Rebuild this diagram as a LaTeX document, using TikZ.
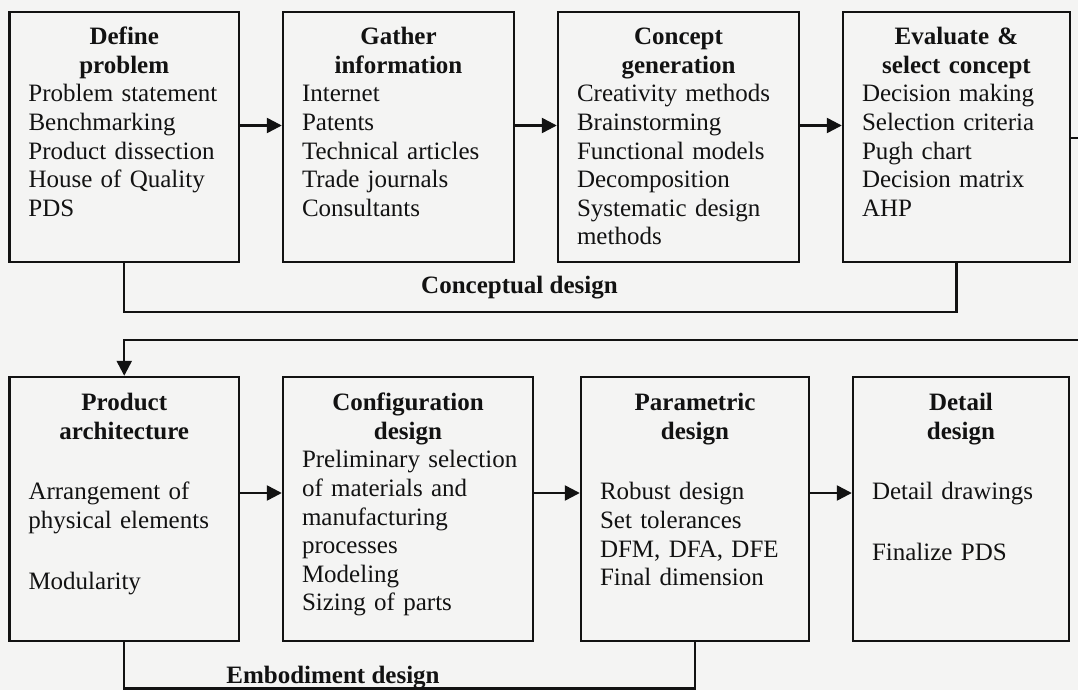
\documentclass[tikz,border=0pt]{standalone}
\usepackage{fontspec}
\setmainfont{Liberation Serif}
\usetikzlibrary{arrows.meta,fit,calc}
\definecolor{paper}{RGB}{244,244,243}
\definecolor{ink}{RGB}{18,18,18}
\newcommand{\stagetext}[2]{\centering\bfseries #1\par
  \normalfont\leftskip=9.5pt\rightskip=0pt plus 1fil #2\par}
\begin{document}
\begin{tikzpicture}[x=0.5pt,y=-0.5pt,
  line/.style={draw=ink,line width=1.2pt},
  flow/.style={line,-{Triangle[length=7.5pt,width=7.5pt]}},
  stage/.style={line,fit={#1},inner sep=0pt},
  txt/.style={inner sep=0pt,anchor=base,text=ink,
    font=\fontsize{12.5pt}{14.3pt}\selectfont},
  lbl/.style={inner sep=0pt,anchor=base,text=ink,
    font=\fontsize{12.5pt}{14.3pt}\selectfont\bfseries}]

% page
\fill[paper] (0,0) rectangle (1078,690);
\useasboundingbox (0,0) rectangle (1078,690);

% conceptual design row
\node[stage={(9.5,12)(239,262)}] (b1) {};
\node[stage={(283,12)(514,262)}] (b2) {};
\node[stage={(558,12)(799,262)}] (b3) {};
\node[stage={(843,12)(1070,262)}] (b4) {};

\node[txt,text width=114.75pt] (t1) at ($(b1.north)+(0,34)$)
  {\stagetext{Define\\problem}{Problem statement\\Benchmarking\\Product dissection\\House of Quality\\PDS}};
\node[txt,text width=115.5pt] (t2) at ($(b2.north)+(0,34)$)
  {\stagetext{Gather\\information}{Internet\\Patents\\Technical articles\\Trade journals\\Consultants}};
\node[txt,text width=120.5pt] (t3) at ($(b3.north)+(0,34)$)
  {\stagetext{Concept\\generation}{Creativity methods\\Brainstorming\\Functional models\\Decomposition\\Systematic design\\methods}};
\node[txt,text width=113.5pt] (t4) at ($(b4.north)+(0,34)$)
  {\stagetext{Evaluate \&\\select concept}{Decision making\\Selection criteria\\Pugh chart\\Decision matrix\\AHP}};

% embodiment and detail design row
\node[stage={(9.5,377)(239,641)}] (b5) {};
\node[stage={(283,377)(533,641)}] (b6) {};
\node[stage={(581,377)(809,641)}] (b7) {};
\node[stage={(853,377)(1069,641)}] (b8) {};

\node[txt,text width=114.75pt] (t5) at ($(b5.north)+(0,35)$)
  {\stagetext{Product\\architecture}{\vspace*{16pt}Arrangement of\\physical elements\\[16pt]Modularity}};
\node[txt,text width=125pt] (t6) at ($(b6.north)+(0,35)$)
  {\stagetext{Configuration\\design}{Preliminary selection\\of materials and\\manufacturing\\processes\\Modeling\\Sizing of parts}};
\node[txt,text width=114pt] (t7) at ($(b7.north)+(0,35)$)
  {\stagetext{Parametric\\design}{\vspace*{16pt}Robust design\\Set tolerances\\DFM, DFA, DFE\\Final dimension}};
\node[txt,text width=108pt] (t8) at ($(b8.north)+(0,35)$)
  {\stagetext{Detail\\design}{\vspace*{16pt}Detail drawings\\[16pt]Finalize PDS}};

% reference heights of the connectors
\coordinate (r1) at (0,125.5);
\coordinate (r2) at (0,493);
\coordinate (br1) at (0,312);
\coordinate (br2) at (0,688.5);
\coordinate (outR) at (1078,138);
\coordinate (inR) at (1078,340);

% flow between stages
\draw[flow] (b1.east |- r1) -- (b2.west |- r1);
\draw[flow] (b2.east |- r1) -- (b3.west |- r1);
\draw[flow] (b3.east |- r1) -- (b4.west |- r1);
\draw[line] (b4.east |- outR) -- (outR);
\draw[flow] (inR) -| (b5.north);
\draw[flow] (b5.east |- r2) -- (b6.west |- r2);
\draw[flow] (b6.east |- r2) -- (b7.west |- r2);
\draw[flow] (b7.east |- r2) -- (b8.west |- r2);

% phase brackets
\draw[line] (b1.south) |- (b4.south |- br1) -- (b4.south);
\draw[line] (b5.south) |- (b7.south |- br2) -- (b7.south);
\node[lbl] (cd) at (519.5,293) {Conceptual design};
\node[lbl] (ed) at (333,683) {Embodiment design};
\end{tikzpicture}
\end{document}
